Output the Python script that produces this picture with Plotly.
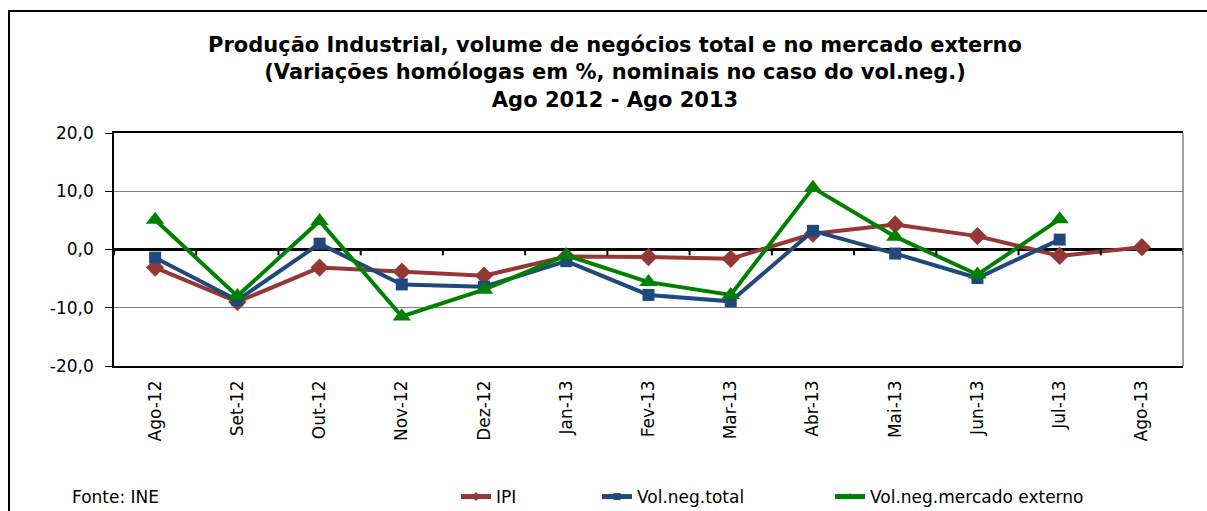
import plotly.graph_objects as go

categories = ["Ago-12", "Set-12", "Out-12", "Nov-12", "Dez-12", "Jan-13", "Fev-13",
              "Mar-13", "Abr-13", "Mai-13", "Jun-13", "Jul-13", "Ago-13"]
ipi = [-3.1, -9.0, -3.1, -3.8, -4.5, -1.2, -1.3, -1.6, 2.7, 4.3, 2.3, -1.1, 0.4]
vol_total = [-1.4, -8.7, 1.0, -6.0, -6.4, -2.0, -7.8, -8.9, 3.2, -0.7, -4.9, 1.7, None]
vol_externo = [5.1, -8.0, 4.9, -11.5, -6.9, -1.0, -5.6, -7.8, 10.6, 2.2, -4.3, 5.2, None]

y_tickvals = [-20, -10, 0, 10, 20]
y_ticktext = ["-20,0", "-10,0", "0,0", "10,0", "20,0"]

series_names = ["IPI", "Vol.neg.total", "Vol.neg.mercado externo"]
series_colors = ["#953735", "#1F497D", "#008000"]
series_symbols = ["diamond", "square", "triangle-up"]
series_sizes = [14, 12, 16]
legend_left_px = [456, 597, 830]

FONT = "DejaVu Sans"
W, H = 1207, 511
L, R, T, B = 114, 24, 133, 145
pw, ph = W - L - R, H - T - B


def px_x(px):
    return (px - L) / pw


def px_y(py):
    return (H - B - py) / ph


fig = go.Figure()
legend_keys = ["legend", "legend2", "legend3"]
for name, vals, col, sym, sz, lk in zip(series_names, [ipi, vol_total, vol_externo],
                                        series_colors, series_symbols, series_sizes,
                                        legend_keys):
    fig.add_trace(go.Scatter(
        x=categories, y=vals, name=name, mode="lines+markers",
        line=dict(color=col, width=4),
        marker=dict(symbol=sym, size=sz, color=col),
        showlegend=False,
    ))
    fig.add_trace(go.Scatter(
        x=[None], y=[None], name=name, mode="lines+markers",
        line=dict(color=col, width=5),
        marker=dict(symbol=sym, size=7, color=col),
        showlegend=True, legend=lk,
    ))

shapes = []
for i in range(len(categories) + 1):
    shapes.append(dict(type="line", xref="x", yref="y", x0=i - 0.5, x1=i - 0.5,
                       y0=0, y1=-1.0, line=dict(color="black", width=2)))
shapes.append(dict(type="rect", xref="paper", yref="paper",
                   x0=px_x(9), x1=px_x(1230), y0=px_y(540), y1=px_y(11),
                   line=dict(color="black", width=2), layer="below"))
shapes.append(dict(type="line", xref="paper", yref="paper", x0=1, x1=1, y0=0, y1=1,
                   line=dict(color="#808080", width=1.5)))

leg_common = dict(orientation="h", xanchor="left", yanchor="middle",
                  xref="container", yref="container",
                  font=dict(size=17, family=FONT), bgcolor="rgba(0,0,0,0)",
                  y=1 - 497 / H)

fig.update_layout(
    width=W, height=H,
    margin=dict(l=L, r=R, t=T, b=B, autoexpand=False),
    paper_bgcolor="white", plot_bgcolor="white",
    font=dict(family=FONT, color="black"),
    title=dict(
        text="Produção Industrial, volume de negócios total e no mercado externo<br>"
             "(Variações homólogas em %, nominais no caso do vol.neg.)<br>"
             "Ago 2012 - Ago 2013",
        font=dict(family=FONT, size=21, color="black", weight="bold"),
        x=615 / W, xanchor="center", y=1 - 52 / H, yanchor="top",
    ),
    xaxis=dict(
        type="category", categoryarray=categories, range=[-0.5, len(categories) - 0.5],
        tickangle=-90, showgrid=False, ticks="", showline=True, linecolor="black",
        linewidth=1.5, tickfont=dict(size=17, family=FONT), mirror=True,
        zeroline=False, ticklabelstandoff=6,
    ),
    yaxis=dict(
        range=[-20, 20], tickvals=y_tickvals, ticktext=y_ticktext, showgrid=True,
        gridcolor="#808080", gridwidth=1, zeroline=True, zerolinecolor="black",
        zerolinewidth=2.5, showline=True, linecolor="black", linewidth=1.5,
        ticks="outside", ticklen=7, tickcolor="black", mirror=False,
        tickfont=dict(size=17, family=FONT), ticklabelstandoff=8,
    ),
    legend=dict(x=legend_left_px[0] / W, **leg_common),
    legend2=dict(x=legend_left_px[1] / W, **leg_common),
    legend3=dict(x=legend_left_px[2] / W, **leg_common),
    shapes=shapes,
    annotations=[dict(text="Fonte: INE", xref="paper", yref="paper",
                      x=px_x(70), y=px_y(497), xanchor="left",
                      yanchor="middle", showarrow=False,
                      font=dict(size=17, family=FONT))],
)

fig.write_html("out.html", config={"displayModeBar": False},
               post_script="document.body.style.margin='0';")
